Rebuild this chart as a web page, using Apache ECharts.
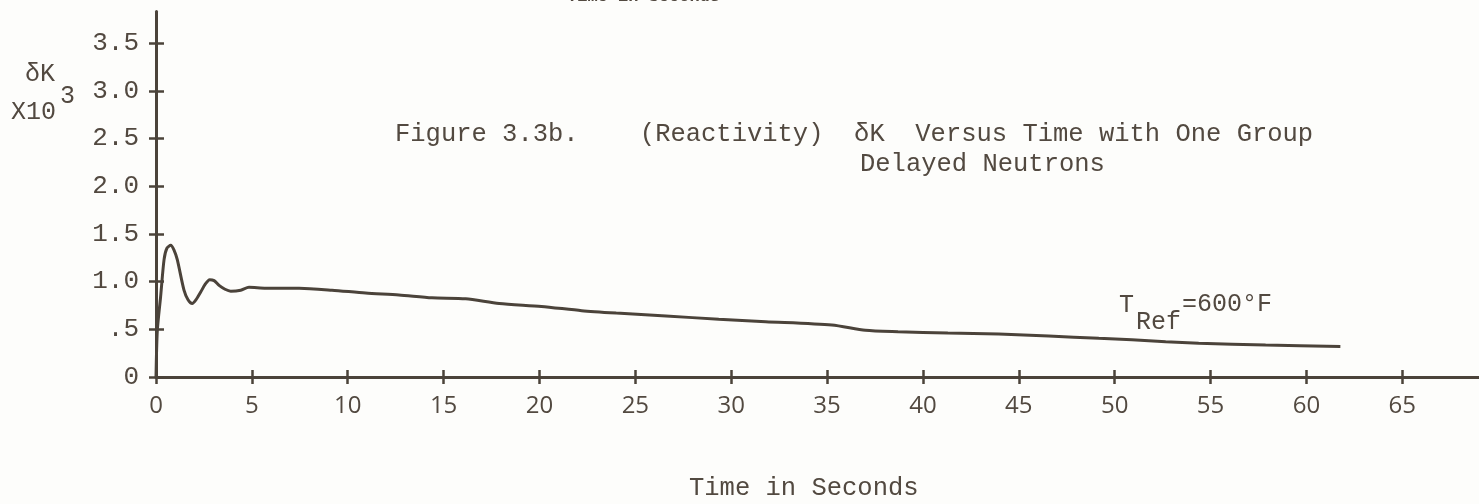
<!DOCTYPE html>
<html>
<head>
<meta charset="utf-8">
<script src="https://cdn.jsdelivr.net/npm/echarts@6/dist/echarts.min.js"></script>
<style>
html,body{margin:0;padding:0;background:#fdfdfb;}
#c{width:1479px;height:504px;}
</style>
</head>
<body>
<div id="c"></div>
<script>
// Time in seconds (x) and reactivity deltaK x10^3 (y)
const timeSec = [0, 0.07, 0.24, 0.42, 0.57, 0.77, 0.94, 1.11, 1.46, 1.67, 1.89, 2.09, 2.33, 2.56, 2.80, 3.03, 3.29, 3.6, 3.9, 4.42, 4.85, 5.72, 7.46, 9.18, 10.93, 12.67, 14.39, 16.15, 17.9, 20.1, 22.2, 24.0, 26.6, 29.35, 31.8, 35.25, 37.0, 38.7, 41.3, 43.95, 46.56, 49.17, 50.9, 52.66, 54.38, 57.87, 61.77];
const deltaK = [0, 0.49, 0.84, 1.23, 1.35, 1.38, 1.33, 1.23, 0.91, 0.81, 0.77, 0.81, 0.89, 0.97, 1.02, 1.01, 0.96, 0.92, 0.90, 0.91, 0.94, 0.93, 0.93, 0.91, 0.88, 0.86, 0.83, 0.82, 0.77, 0.74, 0.695, 0.67, 0.64, 0.605, 0.58, 0.545, 0.49, 0.475, 0.46, 0.45, 0.43, 0.405, 0.39, 0.37, 0.355, 0.335, 0.32];
const xTicks = [0, 5, 10, 15, 20, 25, 30, 35, 40, 45, 50, 55, 60, 65];
const yTicks = [0, 0.5, 1.0, 1.5, 2.0, 2.5, 3.0, 3.5];
const yTickLabels = ['0', '.5', '1.0', '1.5', '2.0', '2.5', '3.0', '3.5'];
const titleLine1 = 'Figure 3.3b.    (Reactivity)  \u03b4K  Versus Time with One Group';
const titleLine2 = 'Delayed Neutrons';
const xName = 'Time in Seconds';
const curveLabel = ['T', 'Ref', '=600\u00b0F'];

const ink = '#4b433a';
const txt = '#524940';
const mono = '"Liberation Mono", "DejaVu Sans Mono", monospace';
const sans = '"Open Sans", "Noto Sans", sans-serif';

const chart = echarts.init(document.getElementById('c'));
const data = timeSec.map((t, i) => [t, deltaK[i]]);

const axLine = { show: true, lineStyle: { color: ink, width: 3 } };
const yLabelMap = {};
yTicks.forEach((v, i) => { yLabelMap[v.toFixed(1)] = yTickLabels[i]; });

chart.setOption({
  backgroundColor: '#fdfdfb',
  animation: false,
  grid: { left: 156, right: 0, top: 11.6, bottom: 127, outerBoundsMode: 'none', containLabel: false },
  xAxis: [
    {
      type: 'value', min: 0, max: 69,
      axisLine: axLine,
      axisTick: { show: true, inside: false, length: 7, customValues: xTicks, lineStyle: { color: ink, width: 2.5 } },
      axisLabel: { customValues: xTicks, color: txt, fontFamily: sans, fontSize: 24, margin: 17 },
      splitLine: { show: false }
    },
    {
      type: 'value', min: 0, max: 69, position: 'bottom',
      axisLine: { show: false },
      axisTick: { show: true, inside: true, length: 7, customValues: xTicks, lineStyle: { color: ink, width: 2.5 } },
      axisLabel: { show: false },
      splitLine: { show: false }
    }
  ],
  yAxis: [
    {
      type: 'value', min: 0, max: 3.83,
      axisLine: axLine,
      axisTick: { show: true, inside: false, length: 7, customValues: yTicks, lineStyle: { color: ink, width: 2.5 } },
      axisLabel: {
        customValues: yTicks, color: txt, fontFamily: mono, fontSize: 26, margin: 17,
        formatter: v => yLabelMap[Number(v).toFixed(1)] || ''
      },
      splitLine: { show: false }
    },
    {
      type: 'value', min: 0, max: 3.83, position: 'left',
      axisLine: { show: false },
      axisTick: { show: true, inside: true, length: 8, customValues: yTicks, lineStyle: { color: ink, width: 2.5 } },
      axisLabel: { show: false },
      splitLine: { show: false }
    }
  ],
  series: [{
    type: 'line',
    data: data,
    smooth: 0.25,
    showSymbol: false,
    lineStyle: { color: ink, width: 3 },
    xAxisIndex: 0, yAxisIndex: 0
  }],
  graphic: [
    { type: 'text', x: 567, y: -12, style: { text: xName, font: 'bold 17px ' + mono, fill: txt, textVerticalAlign: 'top' } },
    { type: 'text', x: 395, y: 134, style: { text: titleLine1, font: '25.5px ' + mono, fill: txt, textVerticalAlign: 'middle' } },
    { type: 'text', x: 860, y: 164, style: { text: titleLine2, font: '25.5px ' + mono, fill: txt, textVerticalAlign: 'middle' } },
    { type: 'text', x: 25, y: 74, style: { text: '\u03b4K', font: '25px ' + mono, fill: txt, textVerticalAlign: 'middle' } },
    { type: 'text', x: 11, y: 112, style: { text: 'X10', font: '25px ' + mono, fill: txt, textVerticalAlign: 'middle' } },
    { type: 'text', x: 60, y: 96, style: { text: '3', font: '25px ' + mono, fill: txt, textVerticalAlign: 'middle' } },
    { type: 'text', x: 1119, y: 305, style: { text: curveLabel[0], font: '25px ' + mono, fill: txt, textVerticalAlign: 'middle' } },
    { type: 'text', x: 1136, y: 322, style: { text: curveLabel[1], font: '25px ' + mono, fill: txt, textVerticalAlign: 'middle' } },
    { type: 'text', x: 1182, y: 304, style: { text: curveLabel[2], font: '25px ' + mono, fill: txt, textVerticalAlign: 'middle' } },
    { type: 'text', x: 689, y: 488, style: { text: xName, font: '25.5px ' + mono, fill: txt, textVerticalAlign: 'middle' } }
  ]
});
</script>
</body>
</html>
